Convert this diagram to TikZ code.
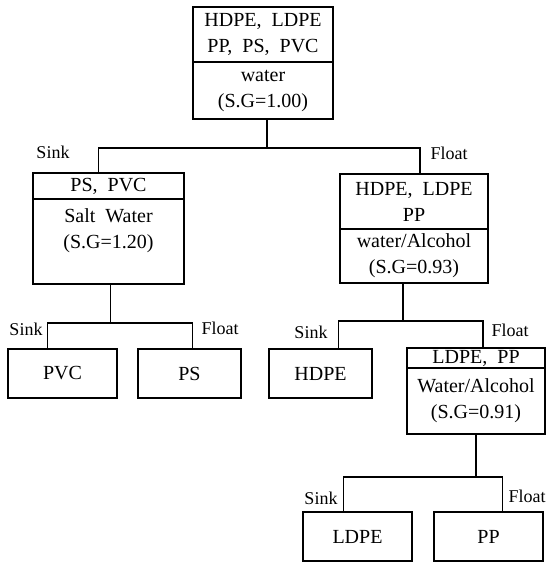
\documentclass[tikz,border=0pt]{standalone}
\usepackage{fontspec}
\setmainfont{Liberation Serif}
\usetikzlibrary{positioning}
\newcommand{\boxfont}{\fontsize{20}{26}\selectfont}
\newcommand{\lblfont}{\fontsize{18}{20}\selectfont}

\begin{document}
\begin{tikzpicture}[x=1pt, y=-1pt,
    box/.style={draw, line width=1.2pt, inner sep=0pt, outer sep=0pt, align=center, font=\boxfont},
    lbl/.style={font=\lblfont, inner sep=0pt},
    link/.style={line width=1.2pt}]
  \useasboundingbox (0,0) rectangle (546,562);

  \node[box, minimum width=140pt, minimum height=55pt] (feed-a) at (263,34.5) {HDPE,~~LDPE\\PP,~~PS,~~PVC};
  \node[box, minimum width=140pt, minimum height=57pt, below=0pt of feed-a] (feed-b) {water\\(S.G=1.00)};

  \node[box, minimum width=151pt, minimum height=26pt] (salt-a) at (108.5,186) {PS,~~PVC};
  \node[box, minimum width=151pt, minimum height=85pt, below=0pt of salt-a] (salt-b) {Salt~~Water\\(S.G=1.20)\\\mbox{}};

  \node[box, minimum width=148pt, minimum height=55pt] (alc1-a) at (414,201.5) {HDPE,~~LDPE\\PP};
  \node[box, minimum width=148pt, minimum height=54pt, below=0pt of alc1-a] (alc1-b) {water/Alcohol\\(S.G=0.93)};

  \node[box, minimum width=138pt, minimum height=20pt] (alc2-a) at (476,358) {LDPE,~~PP};
  \node[box, minimum width=138pt, minimum height=66pt, below=0pt of alc2-a] (alc2-b) {Water/Alcohol\\(S.G=0.91)};

  \node[box, minimum width=109pt, minimum height=49pt] (pvc) at (62.5,373.5) {PVC};
  \node[box, minimum width=103pt, minimum height=49pt] (ps) at (189.5,373.5) {PS};
  \node[box, minimum width=103pt, minimum height=49pt] (hdpe) at (320.5,373.5) {HDPE};
  \node[box, minimum width=109pt, minimum height=49pt] (ldpe) at (357.5,536.5) {LDPE};
  \node[box, minimum width=109pt, minimum height=49pt] (pp) at (488.5,536.5) {PP};

  \coordinate (j1) at (267,148);
  \coordinate (j2) at (110.5,323);
  \coordinate (j3) at (403,321);
  \coordinate (j4) at (476,477);

  \draw[link] ([xshift=4pt]feed-b.south) -- (j1) -| ([xshift=-10pt]salt-a.north);
  \draw[link] (j1) -| ([xshift=6pt]alc1-a.north);
  \draw[link] ([xshift=2pt]salt-b.south) -- (j2) -| ([xshift=-15pt]pvc.north);
  \draw[link] (j2) -| ([xshift=3pt]ps.north);
  \draw[link] ([xshift=-11pt]alc1-b.south) -- (j3) -| ([xshift=18pt]hdpe.north);
  \draw[link] (j3) -| ([xshift=7pt]alc2-a.north);
  \draw[link] (alc2-b.south) -- (j4) -| ([xshift=-14pt]ldpe.north);
  \draw[link] (j4) -| ([xshift=14pt]pp.north);

  \node[lbl] (sink-1) at (53,152) {Sink};
  \node[lbl] (float-1) at (449,153) {Float};
  \node[lbl] (sink-2) at (26,329) {Sink};
  \node[lbl] (float-2) at (220,328) {Float};
  \node[lbl] (sink-3) at (311,332) {Sink};
  \node[lbl] (float-3) at (510,330) {Float};
  \node[lbl] (sink-4) at (321,498) {Sink};
  \node[lbl] (float-4) at (527,496) {Float};
\end{tikzpicture}
\end{document}
